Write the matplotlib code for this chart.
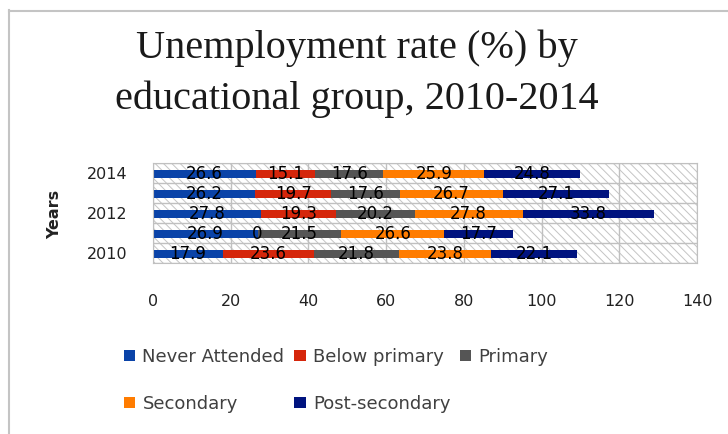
import matplotlib
matplotlib.use("Agg")
import matplotlib.pyplot as plt
from matplotlib.patches import Rectangle
from matplotlib.lines import Line2D
import numpy as np

# unemployment rate (%) by education level, one row per year
years = ["2010", "2011", "2012", "2013", "2014"]
year_ticks = ["2010", "", "2012", "", "2014"]
never_attended = [17.9, 26.9, 27.8, 26.2, 26.6]
below_primary = [23.6, 0, 19.3, 19.7, 15.1]
primary = [21.8, 21.5, 20.2, 17.6, 17.6]
secondary = [23.8, 26.6, 27.8, 26.7, 25.9]
post_secondary = [22.1, 17.7, 33.8, 27.1, 24.8]

groups = ["Never Attended", "Below primary", "Primary", "Secondary", "Post-secondary"]
series = [never_attended, below_primary, primary, secondary, post_secondary]
colors = ["#0a43a8", "#d5260b", "#555555", "#ff7c00", "#00137f"]

plt.rcParams["hatch.linewidth"] = 0.7

fig = plt.figure(figsize=(7.28, 4.34), dpi=100)
W, H = 728, 434
ax = fig.add_axes([153 / W, 1 - 263 / H, 544 / W, 100 / H])

# hatched plot area
ax.add_patch(Rectangle((0, 0), 1, 1, transform=ax.transAxes, facecolor="white",
                       edgecolor="#c4c4c4", hatch="\\\\\\\\", lw=0, zorder=0))

y = np.arange(len(years))
left = np.zeros(len(years))
handles = []
for name, vals, c in zip(groups, series, colors):
    bars = ax.barh(y - 0.05, vals, left=left, height=0.42, color=c, zorder=2, label=name)
    ax.bar_label(bars, label_type="center", fmt="%g", fontsize=12, color="black", zorder=3)
    left += np.array(vals)
    handles.append(bars)

ax.set_xlim(0, 140)
ax.set_ylim(-0.5, len(years) - 0.5)
ax.set_xticks(np.arange(0, 141, 20))
ax.set_yticks(y)
ax.set_yticklabels(year_ticks)
ax.set_yticks(np.arange(-0.5, len(years), 1), minor=True)
ax.tick_params(axis="both", which="both", length=0, labelsize=11.5, colors="#222222")
ax.tick_params(axis="x", pad=22)
ax.tick_params(axis="y", pad=18)
ax.grid(axis="x", which="major", color="#c0c0c0", lw=1, zorder=1)
ax.grid(axis="y", which="minor", color="#c0c0c0", lw=1, zorder=1)
ax.set_axisbelow(True)
for s in ax.spines.values():
    s.set_color("#c0c0c0")

fig.text(55 / W, 1 - 214 / H, "Years", rotation=90, ha="center", va="center",
         fontsize=11.5, fontweight="bold", color="#222222")

# title in two lines
fig.text(357 / W, 1 - 58 / H, "Unemployment rate (%) by", ha="center", va="baseline",
         fontsize=29, family="Liberation Serif", color="#1a1a1a")
fig.text(357 / W, 1 - 109 / H, "educational group, 2010-2014", ha="center", va="baseline",
         fontsize=29, family="Liberation Serif", color="#1a1a1a")

# legend rows: Never/Below/Primary on top, Secondary/Post below
order = [0, 3, 1, 4, 2]
leg = fig.legend([handles[i] for i in order], [groups[i] for i in order], ncol=3,
                 loc="upper left", bbox_to_anchor=(124 / W, 1 - 348 / H),
                 frameon=False, fontsize=13, handlelength=0.62, handleheight=0.62,
                 handletextpad=0.4, columnspacing=0.55, labelspacing=1.6,
                 borderpad=0, borderaxespad=0, labelcolor="#404040")

# outer chart frame
fig.add_artist(Line2D([8.5 / W, 8.5 / W], [0, 1 - 10 / H], color="#c4c4c4", lw=1.5))
fig.add_artist(Line2D([8.5 / W, 1], [1 - 10.5 / H, 1 - 10.5 / H], color="#c4c4c4", lw=1.5))

fig.savefig("out.png", dpi=100)
